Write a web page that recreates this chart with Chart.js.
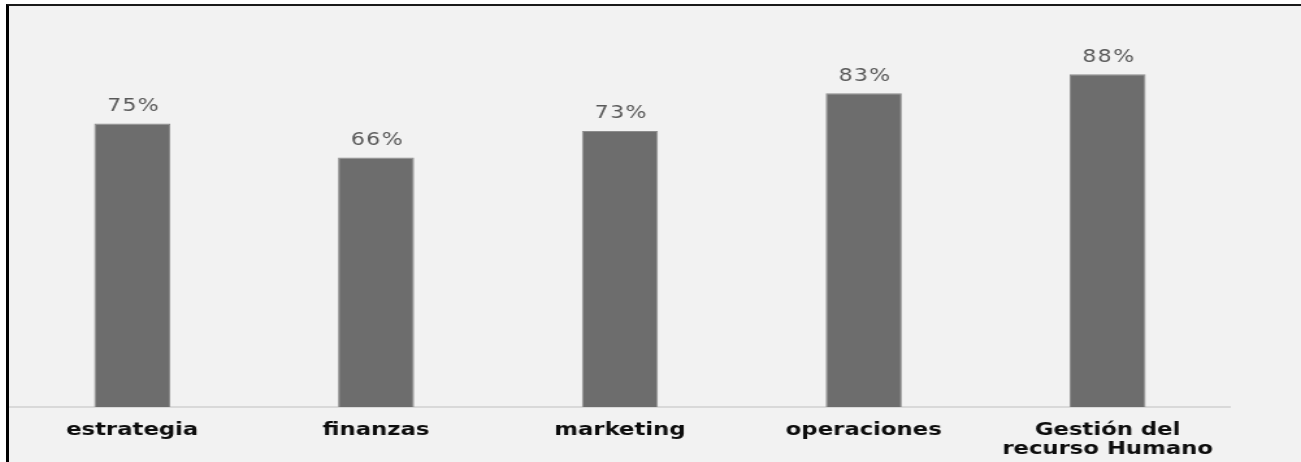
<!DOCTYPE html>
<html>
<head>
<meta charset="utf-8">
<script src="https://cdn.jsdelivr.net/npm/chart.js@4.4.1/dist/chart.umd.min.js"></script>
<style>
    html, body { margin: 0; padding: 0; background: #ffffff; overflow: hidden; }
    #marco {
        position: absolute;
        left: 6px;
        top: 4px;
        width: 1292px;
        height: 456px;
        border-left: 3px solid #000000;
        border-top: 2px solid #1a1a1a;
        background: #f2f2f2;
        overflow: hidden;
    }
    /* el original está estirado en horizontal */
    #grafico { display: block; transform: scaleX(1.2998); transform-origin: 0 0; }
</style>
</head>
<body>
<div id="marco">
    <canvas id="grafico" width="994" height="456"></canvas>
</div>
<script>
// Áreas evaluadas y porcentaje obtenido
const categorias = ['estrategia', 'finanzas', 'marketing', 'operaciones', ['Gestión del', 'recurso Humano']];
const porcentajes = [75, 66, 73, 83, 88];

// Etiquetas de valor encima de cada barra
const etiquetasValor = {
    id: 'etiquetasValor',
    afterDatasetsDraw(chart) {
        const ctx = chart.ctx;
        const meta = chart.getDatasetMeta(0);
        ctx.save();
        ctx.letterSpacing = '1px';
        ctx.font = '17px "DejaVu Sans"';
        ctx.fillStyle = '#595959';
        ctx.textAlign = 'center';
        ctx.textBaseline = 'middle';
        meta.data.forEach(function (barra, i) {
            ctx.fillText(porcentajes[i] + '%', barra.x + 1, barra.y - 17);
        });
        ctx.restore();
    }
};

function crearGrafico(chartId) {
    const ctx = document.getElementById(chartId).getContext('2d');
    return new Chart(ctx, {
        type: 'bar',
        data: {
            labels: categorias,
            datasets: [
                {
                    label: 'Porcentaje',
                    data: porcentajes,
                    backgroundColor: '#6d6d6d',
                    borderColor: '#8c8c8c',
                    borderWidth: 1,
                    categoryPercentage: 1,
                    barPercentage: 0.312
                }
            ]
        },
        options: {
            responsive: false,
            animation: false,
            layout: {
                padding: { left: 1, right: 55, top: 23, bottom: 3 }
            },
            plugins: {
                legend: { display: false },
                tooltip: { enabled: false }
            },
            scales: {
                x: {
                    afterFit(scale) { scale.height = 52; },
                    grid: { display: false, drawTicks: false },
                    border: { display: true, color: '#d9d9d9', width: 2 },
                    ticks: {
                        color: '#0d0d0d',
                        padding: 13,
                        autoSkip: false,
                        maxRotation: 0,
                        font: { family: '"DejaVu Sans"', size: 17.5, weight: 'bold', lineHeight: 1.14 }
                    }
                },
                y: {
                    display: false,
                    min: 0,
                    max: 100
                }
            }
        },
        plugins: [etiquetasValor]
    });
}

crearGrafico('grafico');
</script>
</body>
</html>
